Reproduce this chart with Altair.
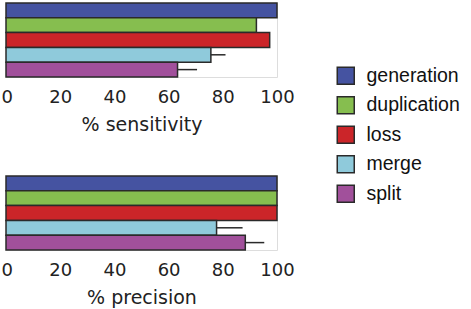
import altair as alt
import pandas as pd

cats = ["generation", "duplication", "loss", "merge", "split"]
colors = ["#4553A1", "#86BE4F", "#CB2529", "#8FCADB", "#A1509B"]
sens = [100, 92.4, 97.3, 75.6, 63.3]
sens_err = [0, 0, 0, 5.4, 7.2]
prec = [100, 100, 100, 77.7, 88.3]
prec_err = [0, 0, 0, 9.6, 7.0]
ticks = [0, 20, 40, 60, 80, 100]


def panel(vals, errs, title):
    df = pd.DataFrame({"category": cats, "value": vals, "err": errs})
    base = alt.Chart(df).encode(
        y=alt.Y("category:N", sort=cats, axis=None,
                scale=alt.Scale(paddingInner=0, paddingOuter=0)),
    )
    bars = base.mark_bar(stroke="#2a2a2a", strokeWidth=1.5).encode(
        x=alt.X("value:Q", title=title,
                scale=alt.Scale(domain=[0, 100], nice=False),
                axis=alt.Axis(values=ticks, domain=False, ticks=False, grid=False,
                              labelFlush=False,
                              labelAlign={"condition": {"test": "datum.value == 0", "value": "left"}, "value": "center"},
                              labelOffset={"condition": {"test": "datum.value == 0", "value": -5}, "value": 0},
                              labelFont="DejaVu Sans", labelFontSize=18,
                              labelColor="#222", labelPadding=11,
                              titleFont="DejaVu Sans", titleFontSize=19,
                              titleFontWeight="normal", titleColor="#222",
                              titlePadding=9)),
        color=alt.Color("category:N", sort=cats,
                        scale=alt.Scale(domain=cats, range=colors),
                        legend=alt.Legend(title=None, orient="none",
                                          legendX=330, legendY=63,
                                          symbolType="square", symbolSize=289,
                                          symbolStrokeColor="#2a2a2a",
                                          symbolStrokeWidth=1.5,
                                          symbolOpacity=1,
                                          labelFont="Liberation Sans",
                                          labelFontSize=19.5, labelColor="#111",
                                          labelOffset=11, rowPadding=5.5)),
    )
    rules = base.transform_filter("datum.err > 0").transform_calculate(
        hi="datum.value + datum.err"
    ).mark_rule(color="#2a2a2a", strokeWidth=1.5).encode(
        x="value:Q", x2="hi:Q"
    )
    return alt.layer(bars, rules).properties(width=271, height=74)


chart = alt.vconcat(
    panel(sens, sens_err, "% sensitivity"),
    panel(prec, prec_err, "% precision"),
    spacing=39,
).properties(
    padding={"left": 0, "top": 1, "right": 0, "bottom": 0}
).configure_view(stroke=None).configure(background="white")

chart.save("out.html", embed_options={"renderer": "svg", "actions": False})
